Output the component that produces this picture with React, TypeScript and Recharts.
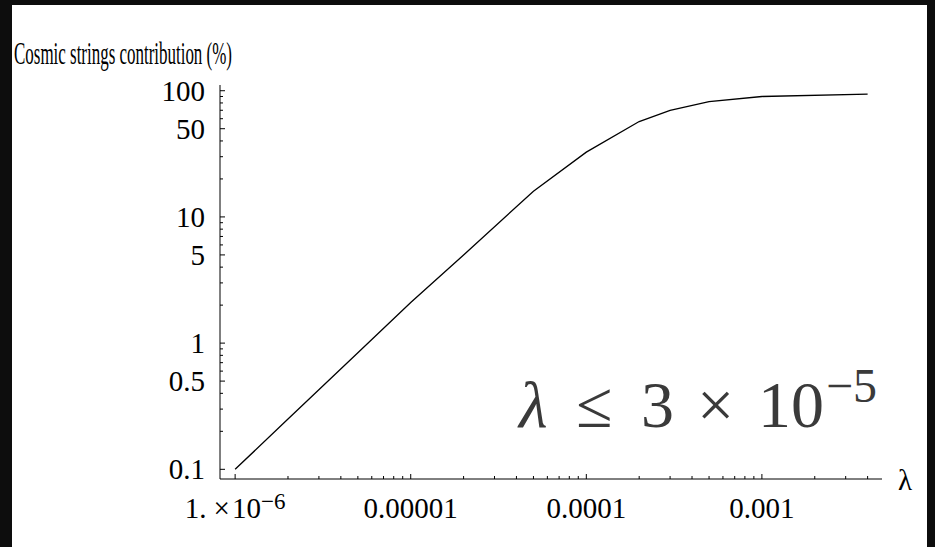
import { LineChart, Line, XAxis, YAxis } from 'recharts';

// lambda vs cosmic strings contribution (%)
const lambdaValues = [1e-6, 2e-6, 5e-6, 1e-5, 2e-5, 5e-5, 1e-4, 2e-4, 3e-4, 5e-4, 1e-3, 4e-3];
const contribution = [0.1, 0.25, 0.84, 2.1, 5.0, 16, 32.6, 57, 70, 82, 90, 94];

const xMajor = [1e-6, 1e-5, 1e-4, 1e-3];
const xMajorLabels = ['1.', '0.00001', '0.0001', '0.001'];
const xMinorSteps = [1, 2, 3, 4, 5, 6, 7, 8, 9];
const xLast = 4e-3;

const yMajor = [0.1, 0.5, 1, 5, 10, 50, 100];
const yMajorLabels = ['0.1', '0.5', '1', '5', '10', '50', '100'];
const yDecades = [0.1, 1, 10];

const data = lambdaValues.map((l, i) => ({ l, v: contribution[i] }));

const xTicks = xMajor
  .flatMap((d) => xMinorSteps.map((k) => k * d))
  .filter((t) => t <= xLast * 1.0001);
const yTicks = [...yDecades.flatMap((d) => xMinorSteps.map((k) => k * d)), 100];

const FONT = '"Liberation Serif", "Times New Roman", serif';
const sameVal = (a: number, b: number) => Math.abs(Math.log10(a) - Math.log10(b)) < 1e-6;

const XTick = (props: any) => {
  const { x, y, payload } = props;
  const idx = xMajor.findIndex((m) => sameVal(m, payload.value));
  const major = idx >= 0;
  return (
    <g>
      <line x1={x} x2={x} y1={y} y2={y - (major ? 5 : 3)} stroke="#000" strokeWidth={1} />
      {major && (
        <text x={x} y={y + 39} textAnchor="middle" fontFamily={FONT} fontSize={29} fill="#000">
          {xMajorLabels[idx]}
          {idx === 0 && (
            <>
              <tspan dx={7}>×</tspan>
              <tspan dx={2}>10</tspan>
              <tspan fontSize={23} dy={-9}>−6</tspan>
            </>
          )}
        </text>
      )}
    </g>
  );
};

const YTick = (props: any) => {
  const { x, y, payload } = props;
  const idx = yMajor.findIndex((m) => sameVal(m, payload.value));
  const major = idx >= 0;
  return (
    <g>
      <line x1={x} x2={x + (major ? 5 : 3)} y1={y} y2={y} stroke="#000" strokeWidth={1} />
      {major && (
        <text x={x - 15} y={y + 10} textAnchor="end" fontFamily={FONT} fontSize={29} fill="#000">
          {yMajorLabels[idx]}
        </text>
      )}
    </g>
  );
};

export default function App() {
  return (
    <div style={{ position: 'absolute', left: 0, top: 0, width: 935, height: 547, background: '#0d0d0d' }}>
      <div style={{ position: 'absolute', left: 12, top: 5, width: 915, height: 542, background: '#fff' }}>
        <LineChart width={915} height={542} data={data} margin={{ top: 80, right: 45, bottom: 8, left: 148 }}>
          <XAxis
            dataKey="l"
            type="number"
            scale="log"
            domain={[8.2e-7, 4.83e-3]}
            allowDataOverflow
            ticks={xTicks}
            interval={0}
            height={60}
            tickSize={0}
            tickMargin={0}
            tick={<XTick />}
            axisLine={{ stroke: '#000', strokeWidth: 1 }}
            tickLine={false}
          />
          <YAxis
            type="number"
            scale="log"
            domain={[0.0838, 111]}
            allowDataOverflow
            ticks={yTicks}
            interval={0}
            width={60}
            tickSize={0}
            tickMargin={0}
            tick={<YTick />}
            axisLine={{ stroke: '#000', strokeWidth: 1 }}
            tickLine={false}
          />
          <Line dataKey="v" stroke="#000" strokeWidth={1.3} dot={false} isAnimationActive={false} />
        </LineChart>
      </div>
      <svg width={935} height={547} style={{ position: 'absolute', left: 0, top: 0, pointerEvents: 'none' }}>
        <text x={14} y={64} fontFamily={FONT} fontSize={31} fill="#000" textLength={218} lengthAdjust="spacingAndGlyphs">
          Cosmic strings contribution (%)
        </text>
        <text x={898} y={490} fontFamily={FONT} fontSize={29} fill="#000">
          λ
        </text>
        <text y={427} fontFamily={FONT} fontSize={66} fill="#3a3a3a">
          <tspan x={519} fontStyle="italic">λ</tspan>
          <tspan x={576}>≤</tspan>
          <tspan x={641}>3</tspan>
          <tspan x={697}>×</tspan>
          <tspan x={758}>10</tspan>
          <tspan x={826} y={402} fontSize={48}>−5</tspan>
        </text>
      </svg>
    </div>
  );
}
